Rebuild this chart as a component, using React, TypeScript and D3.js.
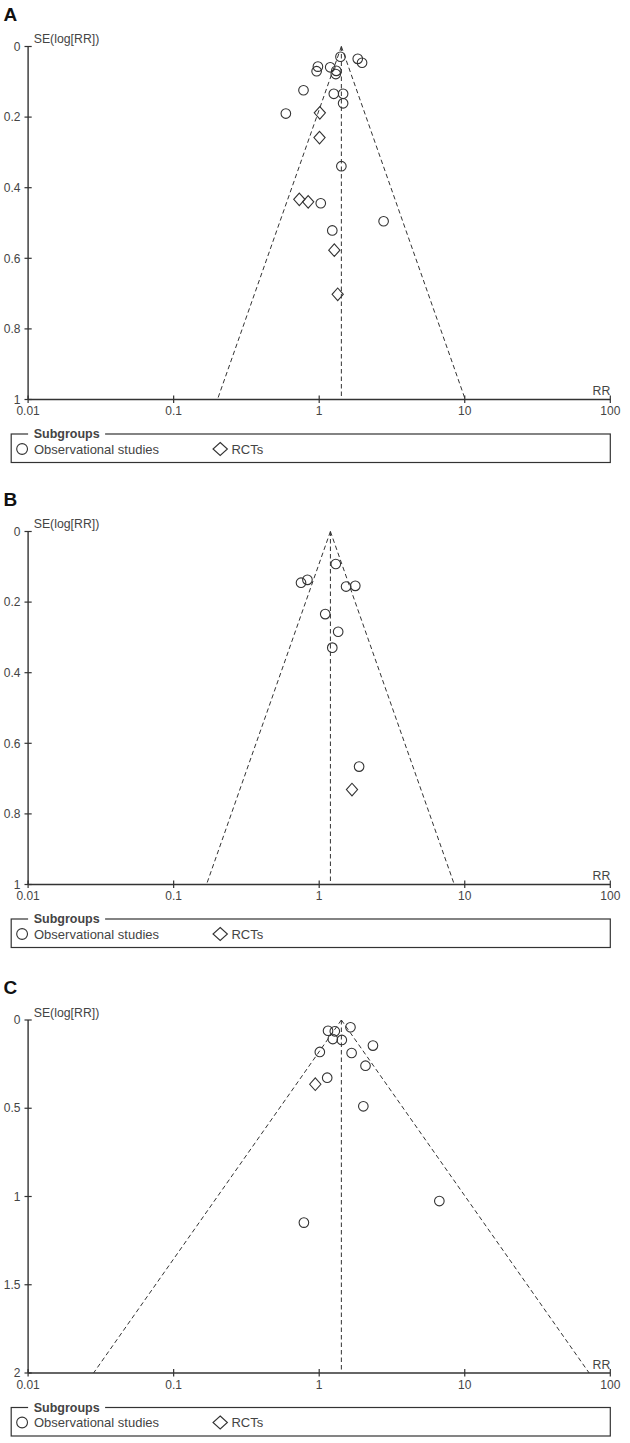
import React from "react";
import * as d3 from "d3";

// ---------- DATA ----------
// Panel A: [RR, SE(log RR)]
const obsA: [number, number][] = [
  [1.40, 0.029], [1.84, 0.035], [1.97, 0.046], [0.98, 0.057], [0.96, 0.070],
  [1.19, 0.059], [1.31, 0.069], [1.30, 0.078], [0.78, 0.124], [1.26, 0.134],
  [1.46, 0.134], [1.46, 0.161], [0.59, 0.190], [1.42, 0.339], [1.025, 0.444],
  [2.77, 0.495], [1.23, 0.521],
];
const rctA: [number, number][] = [
  [1.01, 0.188], [1.005, 0.258], [0.73, 0.433], [0.84, 0.440], [1.27, 0.577], [1.34, 0.702],
];
// Panel B
const obsB: [number, number][] = [
  [1.30, 0.092], [0.75, 0.145], [0.83, 0.137], [1.53, 0.156], [1.77, 0.154],
  [1.10, 0.234], [1.35, 0.284], [1.23, 0.329], [1.88, 0.666],
];
const rctB: [number, number][] = [[1.68, 0.731]];
// Panel C
const obsC: [number, number][] = [
  [1.64, 0.041], [1.15, 0.061], [1.28, 0.064], [1.24, 0.108], [1.43, 0.113],
  [2.34, 0.145], [1.01, 0.181], [1.67, 0.187], [2.08, 0.259], [1.135, 0.327],
  [2.01, 0.489], [6.69, 1.026], [0.785, 1.148],
];
const rctC: [number, number][] = [[0.94, 0.364]];

const panelLabels = ["A", "B", "C"];
const pooledRR = [1.42, 1.194, 1.42];
const seMax = [1, 1, 2];
const yTicksA = [0, 0.2, 0.4, 0.6, 0.8, 1];
const yTicksC = [0, 0.5, 1, 1.5, 2];
const xTicks = [0.01, 0.1, 1, 10, 100];
const xTickLabels = ["0.01", "0.1", "1", "10", "100"];
const legendTitle = "Subgroups";
const legendItems = ["Observational studies", "RCTs"];
const yAxisTitle = "SE(log[RR])";
const xAxisTitle = "RR";

// ---------- LAYOUT ----------
const W = 630;
const H = 1443;
const X0 = 28.1;
const X1 = 610.3;
const PLOT_H = 353;
const panelTops = [46.5, 531.5, 1020];
const FONT = "'Liberation Sans', Arial, sans-serif";
const INK = "#333";
const TXT = "#444";

const xScale = d3.scaleLog().domain([0.01, 100]).range([X0, X1]);

function Circle({ cx, cy, r = 4.8 }: { cx: number; cy: number; r?: number }) {
  return <circle cx={cx} cy={cy} r={r} fill="none" stroke={INK} strokeWidth={1.1} />;
}
function Diamond({ cx, cy, w = 5.6, h = 6.3 }: { cx: number; cy: number; w?: number; h?: number }) {
  return (
    <path
      d={`M${cx},${cy - h}L${cx + w},${cy}L${cx},${cy + h}L${cx - w},${cy}Z`}
      fill="none"
      stroke={INK}
      strokeWidth={1.1}
    />
  );
}

function Panel({ idx, obs, rct, yTicks }: { idx: number; obs: [number, number][]; rct: [number, number][]; yTicks: number[] }) {
  const top = panelTops[idx];
  const bottom = top + PLOT_H;
  const y = d3.scaleLinear().domain([0, seMax[idx]]).range([top, bottom]);
  const pooled = pooledRR[idx];
  const lnP = Math.log(pooled);
  const se = seMax[idx];
  const leftRR = Math.exp(lnP - 1.96 * se);
  const rightRR = Math.exp(lnP + 1.96 * se);
  const apexX = xScale(pooled);
  const legTop = bottom + 34.5;
  const legH = 28.5;
  const dash = "4.5,3";
  return (
    <g>
      <text x={3.5} y={top - 26} fontFamily={FONT} fontWeight="bold" fontSize={19} fill="#111">
        {panelLabels[idx]}
      </text>
      {/* funnel */}
      <line x1={apexX} y1={y(0)} x2={xScale(leftRR)} y2={y(se)} stroke={INK} strokeWidth={1} strokeDasharray={dash} />
      <line x1={apexX} y1={y(0)} x2={xScale(rightRR)} y2={y(se)} stroke={INK} strokeWidth={1} strokeDasharray={dash} />
      <line x1={apexX} y1={y(0)} x2={apexX} y2={y(se) - 2} stroke={INK} strokeWidth={1} strokeDasharray={dash} />
      {/* y axis */}
      <line x1={X0} y1={top} x2={X0} y2={bottom} stroke={INK} strokeWidth={1.4} />
      {yTicks.map((t) => (
        <g key={t}>
          <line x1={X0 - 3.6} x2={X0 + 3.6} y1={y(t)} y2={y(t)} stroke={INK} strokeWidth={1.2} />
          <text x={20.5} y={y(t) + 4.2} textAnchor="end" fontFamily={FONT} fontSize={12} fill={TXT}>
            {String(t)}
          </text>
        </g>
      ))}
      <text x={33.7} y={top - 3.5} fontFamily={FONT} fontSize={12.3} fill={TXT}>
        {yAxisTitle}
      </text>
      {/* x axis */}
      <line x1={X0} y1={bottom} x2={X1} y2={bottom} stroke={INK} strokeWidth={1.6} />
      {xTicks.map((t, i) => (
        <g key={t}>
          <line x1={xScale(t)} x2={xScale(t)} y1={bottom - 4} y2={bottom + 3.5} stroke={INK} strokeWidth={1.2} />
          <text x={xScale(t)} y={bottom + 15.5} textAnchor="middle" fontFamily={FONT} fontSize={12} fill={TXT}>
            {xTickLabels[i]}
          </text>
        </g>
      ))}
      <text x={X1} y={bottom - 4.5} textAnchor="end" fontFamily={FONT} fontSize={12.3} fill={TXT}>
        {xAxisTitle}
      </text>
      {/* points */}
      {obs.map(([rr, s], i) => (
        <Circle key={"o" + i} cx={xScale(rr)} cy={y(s)} />
      ))}
      {rct.map(([rr, s], i) => (
        <Diamond key={"r" + i} cx={xScale(rr)} cy={y(s)} />
      ))}
      {/* legend */}
      <rect x={11.2} y={legTop} width={X1 - 11.2} height={legH} fill="none" stroke={INK} strokeWidth={1.2} />
      <rect x={28.1} y={legTop - 2} width={77} height={4} fill="#fff" />
      <text x={33.7} y={legTop + 4.2} fontFamily={FONT} fontWeight="bold" fontSize={12.5} fill={TXT}>
        {legendTitle}
      </text>
      <Circle cx={22.1} cy={legTop + 15} r={5.4} />
      <text x={34} y={legTop + 19.8} fontFamily={FONT} fontSize={13} fill={TXT}>
        {legendItems[0]}
      </text>
      <Diamond cx={220.2} cy={legTop + 15} w={7.2} h={6.5} />
      <text x={231.4} y={legTop + 19.8} fontFamily={FONT} fontSize={13} fill={TXT}>
        {legendItems[1]}
      </text>
    </g>
  );
}

export default function App() {
  return (
    <svg width={W} height={H} style={{ position: "absolute", left: 0, top: 0, background: "#fff" }}>
      <rect width={W} height={H} fill="#fff" />
      <Panel idx={0} obs={obsA} rct={rctA} yTicks={yTicksA} />
      <Panel idx={1} obs={obsB} rct={rctB} yTicks={yTicksA} />
      <Panel idx={2} obs={obsC} rct={rctC} yTicks={yTicksC} />
    </svg>
  );
}
